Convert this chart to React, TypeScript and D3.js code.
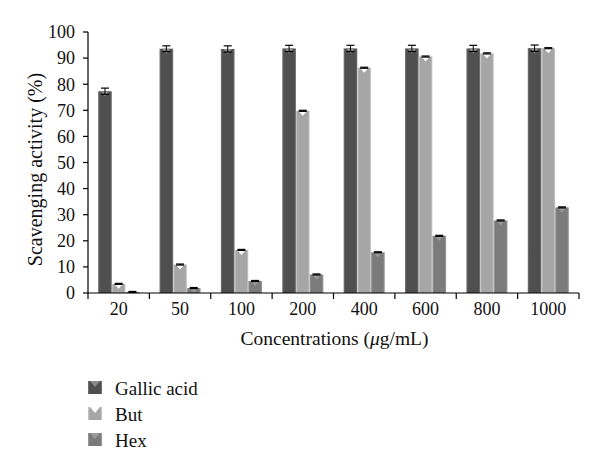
import React from 'react';
import * as d3 from 'd3';

const concentrations = ['20', '50', '100', '200', '400', '600', '800', '1000'];
const seriesNames = ['Gallic acid', 'But', 'Hex'];
const gallicAcid = [77.3, 93.6, 93.5, 93.7, 93.7, 93.7, 93.7, 93.8];
const butValues = [3.5, 10.9, 16.5, 69.8, 86.3, 90.6, 91.8, 93.8];
const hexValues = [0.4, 1.9, 4.6, 7.1, 15.6, 21.9, 27.8, 32.8];
const gallicErr = [1.2, 1.1, 1.2, 1.2, 1.2, 1.2, 1.2, 1.2];
const butErr = [0.2, 0.2, 0.2, 0.2, 0.2, 0.2, 0.2, 0.2];
const hexErr = [0.2, 0.2, 0.2, 0.2, 0.2, 0.2, 0.2, 0.2];
const yTicks = [0, 10, 20, 30, 40, 50, 60, 70, 80, 90, 100];

const styles = [
    { body: '#4f4f4f', edge: '#7a7a7a', tri: '#8c8c8c' },
    { body: '#a6a6a6', edge: '#cfcfcf', tri: '#ffffff' },
    { body: '#7b7b7b', edge: '#a0a0a0', tri: '#9a9a9a' },
];

const FONT = '"Liberation Serif", "DejaVu Serif", serif';

export default function App() {
    const width = 600;
    const height = 473;
    const margin = { top: 32, right: 21, bottom: 180, left: 88 };
    const innerW = width - margin.left - margin.right;
    const innerH = height - margin.top - margin.bottom;

    const series = [
        { name: seriesNames[0], values: gallicAcid, err: gallicErr },
        { name: seriesNames[1], values: butValues, err: butErr },
        { name: seriesNames[2], values: hexValues, err: hexErr },
    ];

    const x0 = d3.scaleBand<string>().domain(concentrations).range([0, innerW]).paddingInner(0.33).paddingOuter(0.165);
    const x1 = d3.scaleBand<string>().domain(seriesNames).range([0, x0.bandwidth()]);
    const y = d3.scaleLinear().domain([0, 100]).range([innerH, 0]);
    const step = x0.step();
    const boundaries = d3.range(concentrations.length + 1).map(i => i * step);

    return (
        <svg width={width} height={height} style={{ position: 'absolute', left: 0, top: 0, background: '#fff' }}>
            <defs>
                {styles.map((s, i) => (
                    <linearGradient key={i} id={`grad${i}`} x1="0" x2="1" y1="0" y2="0">
                        <stop offset="0" stopColor={s.edge} />
                        <stop offset="0.12" stopColor={s.body} />
                        <stop offset="0.88" stopColor={s.body} />
                        <stop offset="1" stopColor={s.edge} />
                    </linearGradient>
                ))}
            </defs>
            <g transform={`translate(${margin.left},${margin.top})`} fontFamily={FONT}>
                {/* bars */}
                {concentrations.map((c, ci) => (
                    <g key={c} transform={`translate(${x0(c)},0)`}>
                        {series.map((s, si) => {
                            const bx = x1(s.name) as number;
                            const bw = x1.bandwidth();
                            const v = s.values[ci];
                            const top = y(v);
                            const triH = Math.min(5, innerH - top);
                            const triW = bw * 0.32;
                            const cx = bx + bw / 2;
                            const eTop = y(v + s.err[ci]);
                            const eBot = y(v - s.err[ci]);
                            return (
                                <g key={s.name}>
                                    <rect x={bx} y={top} width={bw} height={innerH - top} fill={`url(#grad${si})`} />
                                    <path d={`M${cx - triW},${top}L${cx + triW},${top}L${cx},${top + triH}Z`} fill={styles[si].tri} />
                                    <line x1={cx} x2={cx} y1={eTop} y2={eBot} stroke="#000" strokeWidth={1} />
                                    <line x1={cx - 4} x2={cx + 4} y1={eTop} y2={eTop} stroke="#000" strokeWidth={1.2} />
                                    <line x1={cx - 4} x2={cx + 4} y1={eBot} y2={eBot} stroke="#000" strokeWidth={1.2} />
                                </g>
                            );
                        })}
                    </g>
                ))}

                {/* y axis */}
                <line x1={0} x2={0} y1={0} y2={innerH} stroke="#000" strokeWidth={1.2} />
                {yTicks.map(t => (
                    <g key={t} transform={`translate(0,${y(t)})`}>
                        <line x1={-5} x2={0} stroke="#000" strokeWidth={1.2} />
                        <text x={-13} dy="0.35em" textAnchor="end" fontSize={18} fill="#111">{t}</text>
                    </g>
                ))}
                <text transform={`translate(${-46},${137.5}) rotate(-90)`} textAnchor="middle" fontSize={20} fill="#111">
                    Scavenging activity (%)
                </text>

                {/* x axis */}
                <line x1={0} x2={innerW} y1={innerH} y2={innerH} stroke="#000" strokeWidth={1.2} />
                {boundaries.map((b, i) => (
                    <line key={i} x1={b} x2={b} y1={innerH} y2={innerH + 6} stroke="#000" strokeWidth={1.2} />
                ))}
                {concentrations.map(c => (
                    <text key={c} x={(x0(c) as number) + x0.bandwidth() / 2} y={innerH + 22} textAnchor="middle" fontSize={18} fill="#111">{c}</text>
                ))}
                <text x={246.5} y={innerH + 52} textAnchor="middle" fontSize={19.5} fill="#111">
                    Concentrations (<tspan fontStyle="italic">μ</tspan>g/mL)
                </text>
            </g>

            {/* legend */}
            <g fontFamily={FONT}>
                {series.map((s, i) => {
                    const ly = 388 + i * 26;
                    return (
                        <g key={s.name} transform={`translate(88,${ly})`}>
                            <rect x={0} y={-7} width={14} height={13} fill={`url(#grad${i})`} />
                            <path d={`M2,-7L12,-7L7,-1Z`} fill={styles[i].tri} />
                            <text x={27} dy="0.35em" fontSize={19} fill="#111">{s.name}</text>
                        </g>
                    );
                })}
            </g>
        </svg>
    );
}
